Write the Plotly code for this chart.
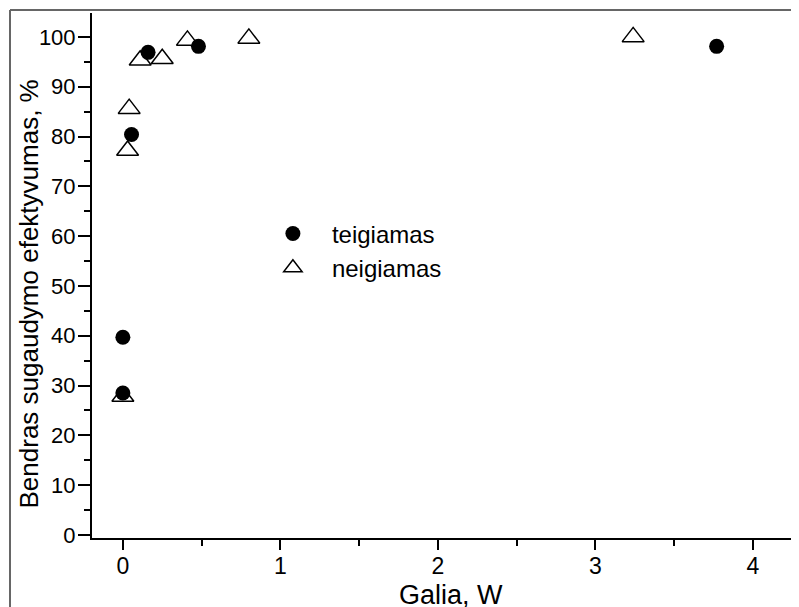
import plotly.graph_objects as go

# teigiamas (filled circles)
teig_x = [0.0, 0.0, 0.055, 0.16, 0.48, 3.77]
teig_y = [28.5, 39.7, 80.4, 96.9, 98.1, 98.1]
# neigiamas (open triangles)
neig_x = [0.0, 0.03, 0.04, 0.11, 0.25, 0.41, 0.80, 3.24]
neig_y = [27.8, 77.2, 85.6, 95.3, 95.6, 99.3, 99.7, 100.0]

x_ticks = [0, 1, 2, 3, 4]
y_ticks = [0, 10, 20, 30, 40, 50, 60, 70, 80, 90, 100]

x_title = "Galia, W"
y_title = "Bendras sugaudymo efektyvumas, %"

FONT = "Liberation Sans, Arial, sans-serif"

# page has an 8px body margin, so the figure is drawn at (8, 8)
W, H = 791, 599
L, R, T, B = 84, 0, 5, 69
PW, PH = W - L - R, H - T - B

fig = go.Figure()
fig.add_trace(go.Scatter(
    x=teig_x, y=teig_y, mode="markers", name="teigiamas",
    marker=dict(symbol="circle", size=15, color="black", line=dict(width=0)),
))
fig.add_trace(go.Scatter(
    x=neig_x, y=neig_y, mode="markers", name="neigiamas",
    marker=dict(symbol="triangle-up-open", size=19, color="black", line=dict(width=1.5, color="black")),
))

fig.update_layout(
    width=W, height=H,
    margin=dict(l=L, r=R, t=T, b=B, autoexpand=False),
    paper_bgcolor="white", plot_bgcolor="white",
    font=dict(family=FONT, size=22, color="black"),
    showlegend=True,
    legend=dict(x=0.229, y=0.622, xanchor="left", yanchor="top",
                bgcolor="rgba(0,0,0,0)", font=dict(size=24, family=FONT),
                itemsizing="trace", itemwidth=68, tracegroupgap=0),
    xaxis=dict(
        range=[-0.196, 4.293], tickvals=x_ticks, ticktext=[str(v) for v in x_ticks],
        automargin=False,
        showgrid=False, zeroline=False, showline=True, linecolor="black", linewidth=2,
        ticks="outside", ticklen=10, tickwidth=2, tickcolor="black", ticklabelstandoff=-4,
        minor=dict(ticks="outside", ticklen=6, tickwidth=2, tickcolor="black", dtick=0.5),
        tickfont=dict(size=23, family=FONT),
    ),
    yaxis=dict(
        range=[-0.6, 104.8], tickvals=y_ticks, ticktext=[str(v) for v in y_ticks],
        automargin=False,
        showgrid=False, zeroline=False, showline=True, linecolor="black", linewidth=2,
        ticks="outside", ticklen=12, tickwidth=2, tickcolor="black", ticklabelstandoff=-2,
        minor=dict(ticks="outside", ticklen=6, tickwidth=2, tickcolor="black", dtick=5),
        tickfont=dict(size=22, family=FONT),
    ),
    annotations=[
        dict(text=y_title, textangle=-90,
             xref="paper", yref="paper", x=(20.5 - L) / PW, y=1 - (286 - T) / PH,
             xanchor="center", yanchor="middle", showarrow=False,
             font=dict(size=26, family=FONT, color="black")),
        dict(text=x_title,
             xref="paper", yref="paper", x=(443 - L) / PW, y=-(587 - (T + PH)) / PH,
             xanchor="center", yanchor="middle", showarrow=False,
             font=dict(size=27, family=FONT, color="black")),
    ],
    shapes=[
        dict(type="line", xref="paper", yref="paper", x0=(2 - L) / PW, x1=1.02,
             y0=1 + (T - 2) / PH, y1=1 + (T - 2) / PH, line=dict(color="#666666", width=2)),
        dict(type="line", xref="paper", yref="paper", x0=(2 - L) / PW, x1=(2 - L) / PW,
             y0=1 + (T - 2) / PH, y1=-(B + 10) / PH, line=dict(color="#666666", width=2)),
    ],
)

fig.write_html("out.html")
